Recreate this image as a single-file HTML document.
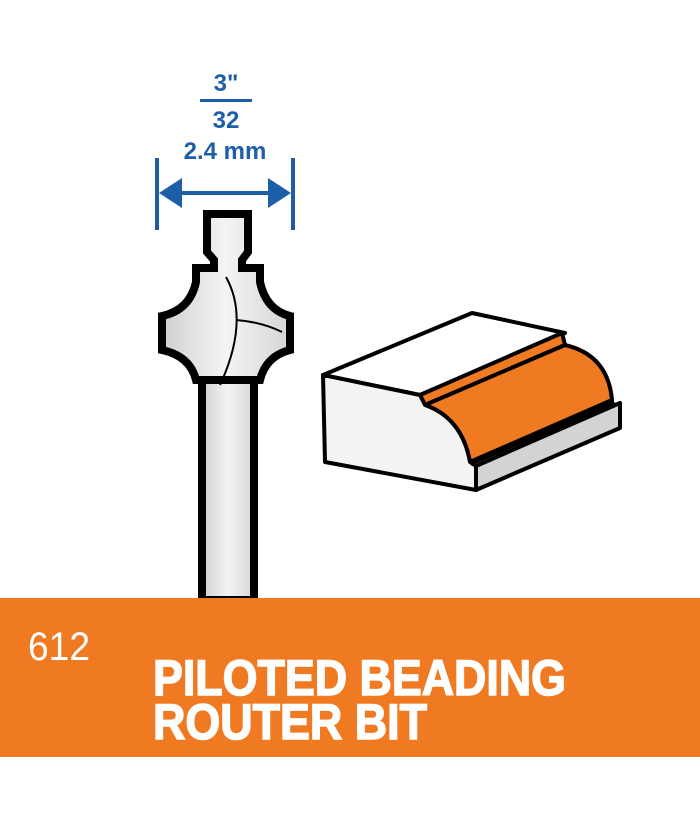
<!DOCTYPE html>
<html><head><style>html,body{margin:0;padding:0;background:#fff}svg{display:block}</style></head>
<body>
<svg width="700" height="824" viewBox="0 0 700 824" xmlns="http://www.w3.org/2000/svg">
<defs>
<linearGradient id="g" x1="0" x2="1"><stop offset="0" stop-color="#cfd0d2"/><stop offset="0.5" stop-color="#f4f4f5"/><stop offset="1" stop-color="#d4d5d7"/></linearGradient>
</defs>
<g fill="#1c5ea8" font-family="Liberation Sans, sans-serif" font-weight="bold" text-anchor="middle">
<text x="226" y="91" font-size="24">3"</text>
<rect x="200" y="99" width="52" height="3"/>
<text x="226" y="128" font-size="24">32</text>
<text x="225" y="159" font-size="24">2.4 mm</text>
<rect x="155" y="158" width="4" height="72"/>
<rect x="291" y="158" width="4" height="72"/>
<rect x="175" y="191" width="100" height="4"/>
<polygon points="159,193 182,178 182,208"/>
<polygon points="291,193 268,178 268,208"/>
</g>
<g stroke="#000" stroke-width="8" stroke-linejoin="miter" fill="url(#g)">
<rect x="202" y="360" width="52" height="240"/>
<path d="M207,214 H248 V252 L242,260 V268 H260 V282 Q266,310 290,316 V350 Q266,356 260,380 H196 Q190,356 162,350 V316 Q190,310 196,282 V268 H214 V260 L207,252 Z"/>
</g>
<path d="M226,277 Q250,320 220,385" stroke="#000" stroke-width="2" fill="none"/>
<path d="M236,320 Q262,322 282,332" stroke="#000" stroke-width="2" fill="none"/>
<g stroke="#000" stroke-width="4" stroke-linejoin="round">
<polygon points="323,375 472,313 565,333 420,395" fill="#fff"/>
<polygon points="420,395 562,333 565,345 425,405" fill="#f07a22"/>
<path d="M425,405 L565,345 Q608,355 612,400 L470,462 Q462,418 425,405 Z" fill="#f07a22"/>
<path d="M323,375 L420,395 L425,405 Q462,418 470,462 L476,466 L476,490 L325,462 Z" fill="#f3f3f3"/>
<polygon points="476,466 620,403 620,428 476,490" fill="#d2d3d5"/>
<line x1="470" y1="463" x2="614" y2="401" stroke-width="6"/>
</g>
<rect x="0" y="598" width="700" height="159" fill="#f07a22"/>
<g fill="#fff" font-family="Liberation Sans Narrow, Liberation Sans, sans-serif">
<text x="28" y="660" font-size="40" textLength="62" lengthAdjust="spacingAndGlyphs">612</text>
<g font-weight="bold" stroke="#fff" stroke-width="1.5">
<text x="153" y="695" font-size="50" textLength="413" lengthAdjust="spacingAndGlyphs">PILOTED BEADING</text>
<text x="153" y="739" font-size="50" textLength="274" lengthAdjust="spacingAndGlyphs">ROUTER BIT</text>
</g>
</g>
</svg>
</body></html>
